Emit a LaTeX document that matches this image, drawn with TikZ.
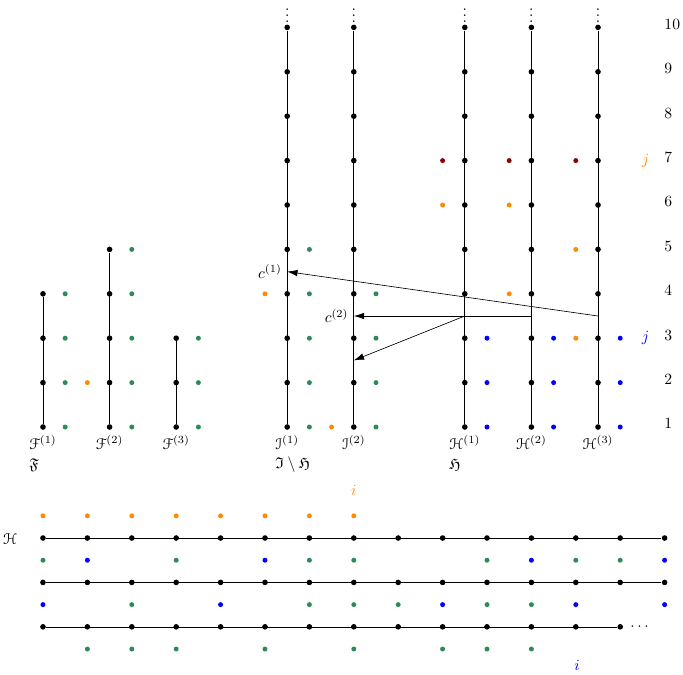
\documentclass[tikz,border=0pt]{standalone}
\usepackage{amssymb}
\usepackage{eucal}
\usetikzlibrary{arrows.meta,calc}
\definecolor{dgreen}{RGB}{46,139,87}
\definecolor{dorange}{RGB}{255,140,0}
\definecolor{dred}{RGB}{139,0,0}
\begin{document}
\begin{tikzpicture}[x=1cm,y=1cm,
  bdot/.style={circle,fill=black,inner sep=0pt,minimum size=3.6pt},
  cdot/.style={circle,fill=#1,inner sep=0pt,minimum size=3.2pt},
  arr/.style={-{Latex[length=6.6pt,width=4.2pt]}},
  num/.style={anchor=west,inner sep=0pt}
]
\useasboundingbox (-0.968,-4.563) rectangle (14.414,10.617);

% short columns F
\foreach \n/\x/\t in {F1/0/4, F2/1.5/5, F3/3/3} {
  \foreach \r in {1,...,\t} {
    \node[bdot] (\n-\r) at (\x,\r) {};
    \node[cdot=dgreen] (\n-g\r) at (\x+0.5,\r) {};
  }
  \draw (\n-1) -- (\n-\t);
}
% long columns
\foreach \n/\x in {I1/5.5, I2/7, H1/9.5, H2/11, H3/12.5} {
  \foreach \r in {1,...,10} \node[bdot] (\n-\r) at (\x,\r) {};
  \draw (\n-1) -- (\n-10);
  \node[anchor=south,inner sep=0pt] (\n-v) at (\x,10.1) {$\vdots$};
}
% green dots beside I
\foreach \r in {1,...,5} \node[cdot=dgreen] (I1-g\r) at (6,\r) {};
\foreach \r in {1,...,4} \node[cdot=dgreen] (I2-g\r) at (7.5,\r) {};
% blue dots beside H
\foreach \n/\x in {H1/10, H2/11.5, H3/13} {
  \foreach \r in {1,2,3} \node[cdot=blue] (\n-b\r) at (\x,\r) {};
}
% orange dots
\foreach \x/\y [count=\k] in {1/2, 5/4, 6.5/1, 9/6, 10.5/6, 10.5/4, 12/5, 12/3}
  \node[cdot=dorange] (o\k) at (\x,\y) {};
% dark red dots
\foreach \x [count=\k] in {9, 10.5, 12}
  \node[cdot=dred] (r\k) at (\x,7) {};

% labels under columns
\foreach \n/\t in {F1/{\mathcal{F}^{(1)}}, F2/{\mathcal{F}^{(2)}}, F3/{\mathcal{F}^{(3)}},
  I1/{\mathcal{I}^{(1)}}, I2/{\mathcal{I}^{(2)}},
  H1/{\mathcal{H}^{(1)}}, H2/{\mathcal{H}^{(2)}}, H3/{\mathcal{H}^{(3)}}}
  \node[below] (l\n) at (\n-1.south) {$\t$};
\node[anchor=west] (sF) at ($(lF1.west)+(0,-0.5)$) {$\mathfrak{F}$};
\node[anchor=west] (sI) at ($(lI1.west)+(0,-0.5)$) {$\mathfrak{I}\setminus\mathfrak{H}$};
\node[anchor=west] (sH) at ($(lH1.west)+(0,-0.5)$) {$\mathfrak{H}$};

% row numbers
\foreach \r in {1,...,10} \node[num] (n\r) at (13.99,\r+0.07) {$\r$};
\node (jo) at (13.57,7) {\color{dorange}$j$};
\node (jb) at (13.57,3) {\color{blue}$j$};

% arrows
\coordinate (a1s) at ($(H3-3)!0.5!(H3-4)$);
\coordinate (a1e) at ($(I1-4)!0.5!(I1-5)$);
\coordinate (a2s) at ($(H2-3)!0.5!(H2-4)$);
\coordinate (a2e) at ($(I2-3)!0.5!(I2-4)$);
\coordinate (a3s) at ($(H1-3)!0.5!(H1-4)$);
\coordinate (a3e) at ($(I2-2)!0.5!(I2-3)$);
\draw[arr] (a1s) -- (a1e) node[left] (c1) {$c^{(1)}$};
\draw[arr] (a2s) -- (a2e) node[left] (c2) {$c^{(2)}$};
\draw[arr] (a3s) -- (a3e);

% bottom part
\foreach \r/\yy/\l in {1/-1.5/14, 2/-2.5/14, 3/-3.5/13} {
  \foreach \x in {0,...,\l} \node[bdot] (h\r-\x) at (\x,\yy) {};
  \draw (h\r-0) -- (h\r-\l);
}
\node[right,xshift=1pt] (hdots) at (h3-13.east) {$\cdots$};
\node (lH) at (-0.74,-1.52) {$\mathcal{H}$};
\foreach \x in {0,...,7} \node[cdot=dorange] (bo\x) at (\x,-1) {};
\foreach \x in {0,3,6,7,10,12,13} \node[cdot=dgreen] (bg2-\x) at (\x,-2) {};
\foreach \x in {1,5,11,14} \node[cdot=blue] (bb2-\x) at (\x,-2) {};
\foreach \x in {2,6,7,8,10,11} \node[cdot=dgreen] (bg3-\x) at (\x,-3) {};
\foreach \x in {0,4,9,12,14} \node[cdot=blue] (bb3-\x) at (\x,-3) {};
\foreach \x in {1,2,3,5,7,9,10,11} \node[cdot=dgreen] (bg4-\x) at (\x,-4) {};
\node (io) at (7,-0.42) {\color{dorange}$i$};
\node (ib) at (12.03,-4.36) {\color{blue}$i$};
\end{tikzpicture}
\end{document}
